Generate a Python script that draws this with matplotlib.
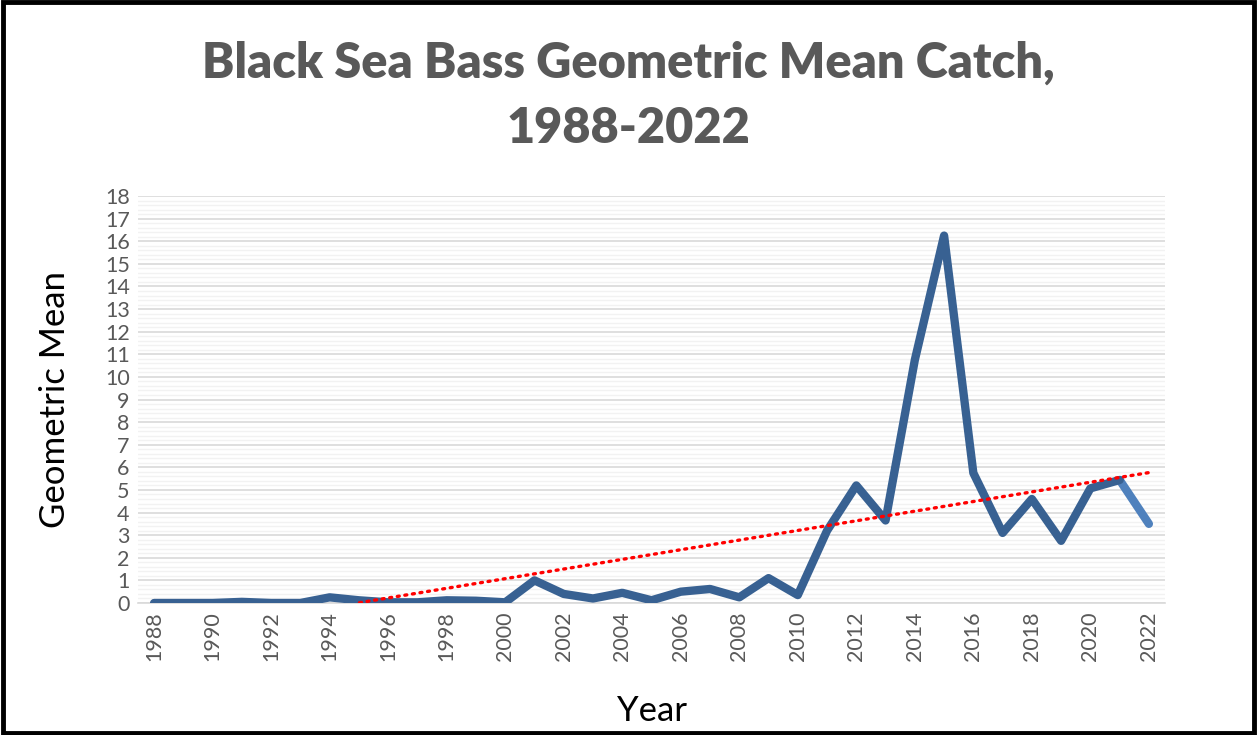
import numpy as np
import matplotlib.pyplot as plt
from matplotlib.patches import Rectangle

years = list(range(1988, 2023))
geo_mean = [0, 0, 0, 0.05, 0, 0, 0.25, 0.12, 0.03, 0.03, 0.12, 0.1, 0.03,
            1.0, 0.4, 0.2, 0.45, 0.12, 0.5, 0.62, 0.25, 1.1, 0.35,
            3.2, 5.2, 3.65, 10.75, 16.25, 5.75, 3.1, 4.6, 2.75, 5.07, 5.44, 3.5]

main_color = '#386192'
last_color = '#4f81bd'
gray = '#595959'

fig = plt.figure(figsize=(12.57, 7.35), dpi=100)
ax = fig.add_axes([0.1098, 0.1796, 0.8170, 0.5537])

x = np.array(years)
y = np.array(geo_mean)

# trendline (linear fit), clipped at zero like excel does
coef = np.polyfit(x, y, 1)
tx = np.linspace(x[0], x[-1], 500)
ty = np.polyval(coef, tx)
mask = ty >= 0
ax.plot(tx[mask], ty[mask], color='red', lw=2.4, ls=(0, (0.6, 1.7)),
        dash_capstyle='round', zorder=4)

ax.plot(x[:-1], y[:-1], color=main_color, lw=6, solid_capstyle='round',
        solid_joinstyle='round', zorder=3)
ax.plot(x[-2:], y[-2:], color=last_color, lw=6, solid_capstyle='round', zorder=2)

ax.set_xlim(1987.45, 2022.55)
ax.set_ylim(0, 18)
ax.set_yticks(range(0, 19))
ax.set_yticks(np.arange(0, 18, 0.2), minor=True)
ax.set_xticks(years[::2])
ax.set_xticklabels([str(v) for v in years[::2]], rotation=90)

ax.grid(which='major', axis='y', color='#d9d9d9', lw=1.2, zorder=0)
ax.grid(which='minor', axis='y', color='#f2f2f2', lw=1.0, zorder=0)
ax.set_axisbelow(True)
for s in ['top', 'right', 'left']:
    ax.spines[s].set_visible(False)
ax.spines['bottom'].set_color('#d9d9d9')
ax.spines['bottom'].set_linewidth(1.2)
ax.tick_params(which='both', length=0)
ax.tick_params(axis='both', labelsize=15.5, colors=gray, pad=6)
for lab in ax.get_xticklabels() + ax.get_yticklabels():
    lab.set_family('Lato')

ax.set_ylabel('Geometric Mean', fontsize=25, family='Lato', labelpad=24)
ax.set_xlabel('Year', fontsize=25, family='Lato', labelpad=24)

fig.suptitle('Black Sea Bass Geometric Mean Catch,\n1988-2022', y=0.945,
             fontsize=35, fontweight='heavy', color=gray, family='Lato',
             linespacing=1.55)

fig.patches.append(Rectangle((0.002, 0.003), 0.996, 0.994, transform=fig.transFigure,
                             fill=False, edgecolor='black', lw=3.5))

fig.savefig('out.png', dpi=100)
